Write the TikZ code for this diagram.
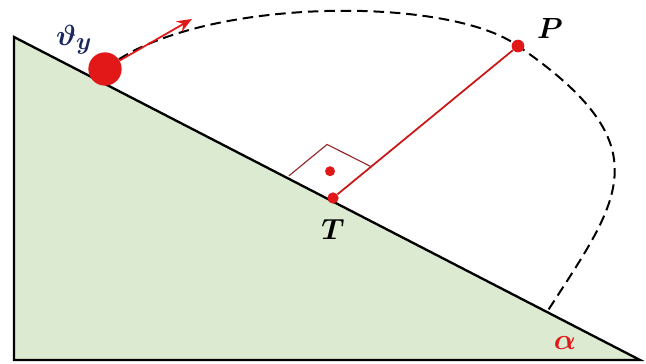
\documentclass[tikz,border=0pt]{standalone}
\usepackage{amsmath,amssymb,bm}
\usetikzlibrary{calc,arrows.meta,positioning,backgrounds}
\definecolor{slopegreen}{RGB}{221,234,210}
\definecolor{ballred}{RGB}{226,24,24}
\definecolor{markred}{RGB}{150,45,45}
\definecolor{velblue}{RGB}{25,40,95}

\begin{document}
\begin{tikzpicture}[
  x=0.03cm, y=-0.03cm,
  ball/.style={circle, fill=ballred, inner sep=0pt, minimum size=10mm},
  dot/.style={circle, fill=ballred, inner sep=0pt, minimum size=3.4mm},
  big label/.style={font=\fontsize{29}{33}\selectfont, inner sep=1pt},
  >={Stealth[length=4.5mm, width=3.6mm]}
]
  \useasboundingbox (0,0) rectangle (646,363);
  % points
  \node[ball] (body) at (105,69) {};
  \node[dot] (T) at (333,198) {};
  \node[dot, minimum size=3.8mm] (P) at (518,46) {};
  \coordinate (vtip) at (192,19);
  \coordinate (land) at (547,312);
  \coordinate (top) at (14,37);
  \coordinate (foot) at (14,360);
  \coordinate (toe) at (640,360);

  \begin{scope}[on background layer]
    % the inclined plane
    \filldraw[fill=slopegreen, draw=black, line width=2pt] (top) -- (foot) -- (toe) -- cycle;
    % trajectory
    \draw[dash pattern=on 9pt off 5pt, line width=1.7pt]
      (body.35) .. controls (217,-3) and (451,-3) .. (P.center)
      .. controls (665,147) and (619,200) .. (land);
    \draw[ballred!90!black, line width=1.5pt] (T) -- (P);
  \end{scope}

  % right angle at T
  \coordinate (m1) at ($(T)!1.48cm!(top)$);
  \coordinate (m2) at ($(T)!1.48cm!(P)$);
  \coordinate (m3) at ($(m1)+(m2)-(T)$);
  \draw[markred, line width=1pt] (m1) -- (m3) -- (m2);
  \node[dot, minimum size=3mm] (rdot) at ($(T)!0.5!(m3)$) {};

  \draw[->, ballred, line width=1.5pt] (body) -- (vtip);

  % labels
  \node[big label, text=velblue] (vlabel) at (74,40) {$\bm{\vartheta_y}$};
  \node[big label] (Plabel) at (550,28) {$\bm{P}$};
  \node[big label] (Tlabel) at (333,229) {$\bm{T}$};
  \node[big label, text=ballred] (alabel) at (565,343) {$\bm{\alpha}$};
\end{tikzpicture}
\end{document}
